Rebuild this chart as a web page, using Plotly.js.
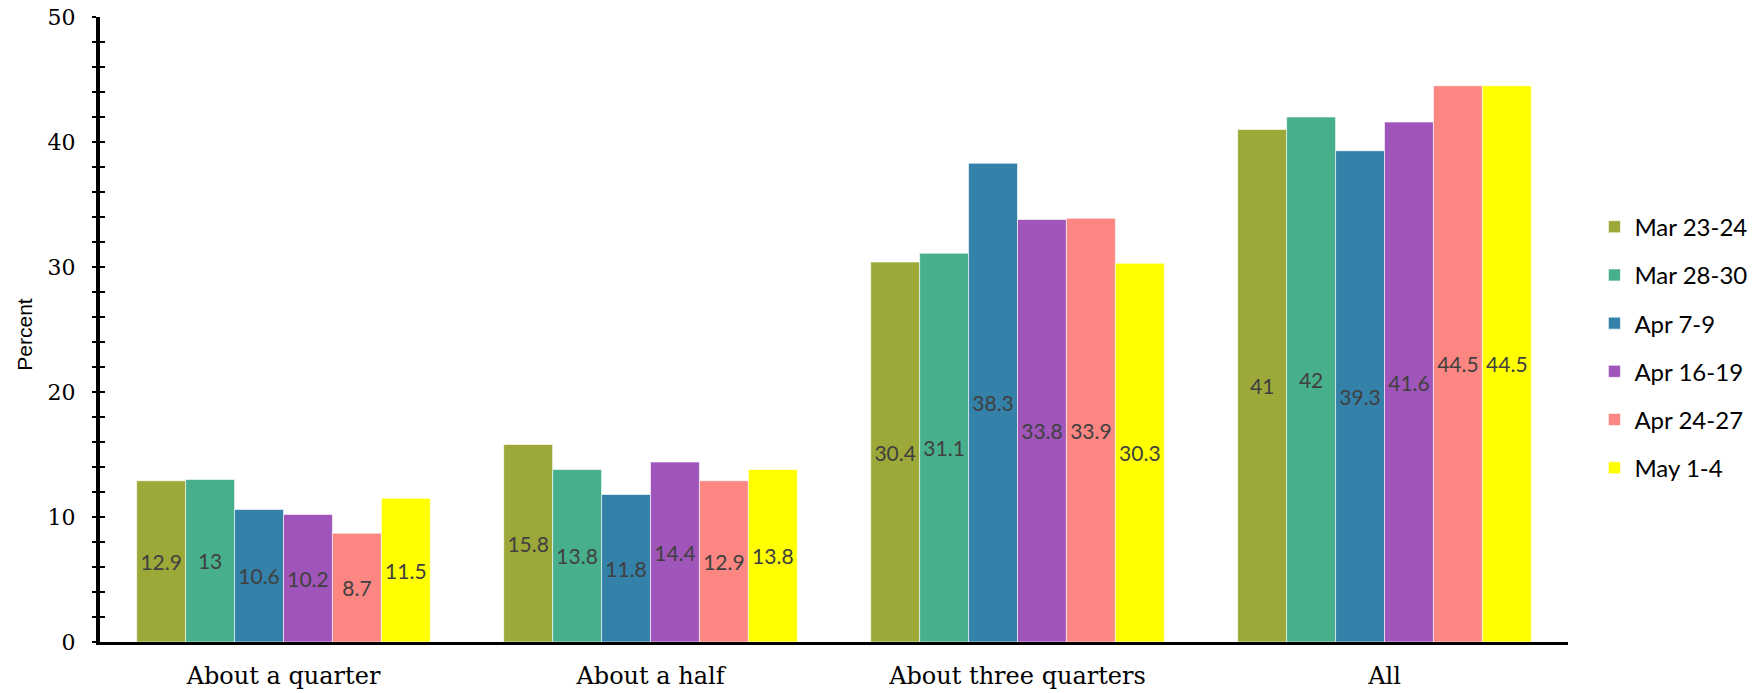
<!DOCTYPE html>
<html>
<head>
<meta charset="utf-8">
<script src="https://cdn.plot.ly/plotly-3.0.1.min.js"></script>
<style>html,body{margin:0;padding:0;background:#fff;}#chart{width:1764px;height:693px;}</style>
</head>
<body>
<div id="chart"></div>
<script>
const categories = ["About a quarter", "About a half", "About three quarters", "All"];
const seriesNames = ["Mar 23-24", "Mar 28-30", "Apr 7-9", "Apr 16-19", "Apr 24-27", "May 1-4"];
const mar2324 = [12.9, 15.8, 30.4, 41];
const mar2830 = [13, 13.8, 31.1, 42];
const apr79 = [10.6, 11.8, 38.3, 39.3];
const apr1619 = [10.2, 14.4, 33.8, 41.6];
const apr2427 = [8.7, 12.9, 33.9, 44.5];
const may14 = [11.5, 13.8, 30.3, 44.5];
const seriesValues = [mar2324, mar2830, apr79, apr1619, apr2427, may14];
const colors = ["#9CA838", "#47AF8B", "#3481AA", "#A055BA", "#FB8682", "#FFFF00"];

const traces = seriesValues.map((vals, i) => ({
  type: "bar",
  name: seriesNames[i],
  x: categories,
  y: vals,
  text: vals.map(v => String(v)),
  textposition: "inside",
  insidetextanchor: "middle",
  textangle: 0,
  constraintext: "none",
  textfont: {family: "Lato, 'Open Sans', sans-serif", size: 21, color: "#404040"},
  marker: {color: colors[i], line: {color: "rgba(255,255,255,0.6)", width: 1}},
  legendgroup: "g" + i,
  hoverinfo: "skip"
}));

// helper trace so the overlaid tick axis (inside half of the crossing ticks) is drawn
traces.push({
  type: "scatter", mode: "markers", x: [], y: [], yaxis: "y2",
  showlegend: false, hoverinfo: "skip"
});

const layout = {
  width: 1764, height: 693,
  margin: {l: 100, r: 193, t: 17, b: 51},
  paper_bgcolor: "#fff", plot_bgcolor: "#fff",
  barmode: "group", bargap: 0.2, bargroupgap: 0,
  uniformtext: {mode: "show", minsize: 21},
  showlegend: true,
  legend: {
    x: 1.018, xanchor: "left", y: 0.471, yanchor: "middle",
    font: {family: "Lato, 'Open Sans', sans-serif", size: 24, color: "#000"},
    tracegroupgap: 14, itemwidth: 30
  },
  xaxis: {
    type: "category",
    showline: true, linecolor: "#000", linewidth: 3,
    ticks: "", showgrid: false, zeroline: false,
    tickfont: {family: "'DejaVu Serif', serif", size: 24, color: "#000"},
    ticklabelstandoff: 10,
    fixedrange: true
  },
  yaxis: {
    range: [0, 50], dtick: 10, tick0: 0,
    showline: true, linecolor: "#000", linewidth: 4,
    ticks: "outside", ticklen: 4, tickwidth: 2.5, tickcolor: "#000",
    minor: {dtick: 2, ticks: "outside", ticklen: 4, tickwidth: 2.5, tickcolor: "#000"},
    showgrid: false, zeroline: false,
    tickfont: {family: "'DejaVu Serif', serif", size: 22, color: "#000"},
    ticklabelstandoff: 12
  },
  yaxis2: {
    overlaying: "y", anchor: "x", side: "left", range: [0, 50], dtick: 2, tick0: 0,
    showline: false, showticklabels: false, showgrid: false, zeroline: false,
    ticks: "inside", ticklen: 5, tickwidth: 2.5, tickcolor: "#000"
  },
  annotations: [{
    text: "Percent", xref: "paper", yref: "paper",
    x: -0.0512, y: 0.493, xanchor: "center", yanchor: "middle",
    textangle: -90, showarrow: false,
    font: {family: "'Liberation Sans', Arial, sans-serif", size: 21, color: "#000"}
  }]
};

Plotly.newPlot("chart", traces, layout, {displayModeBar: false, staticPlot: true});
</script>
</body>
</html>
